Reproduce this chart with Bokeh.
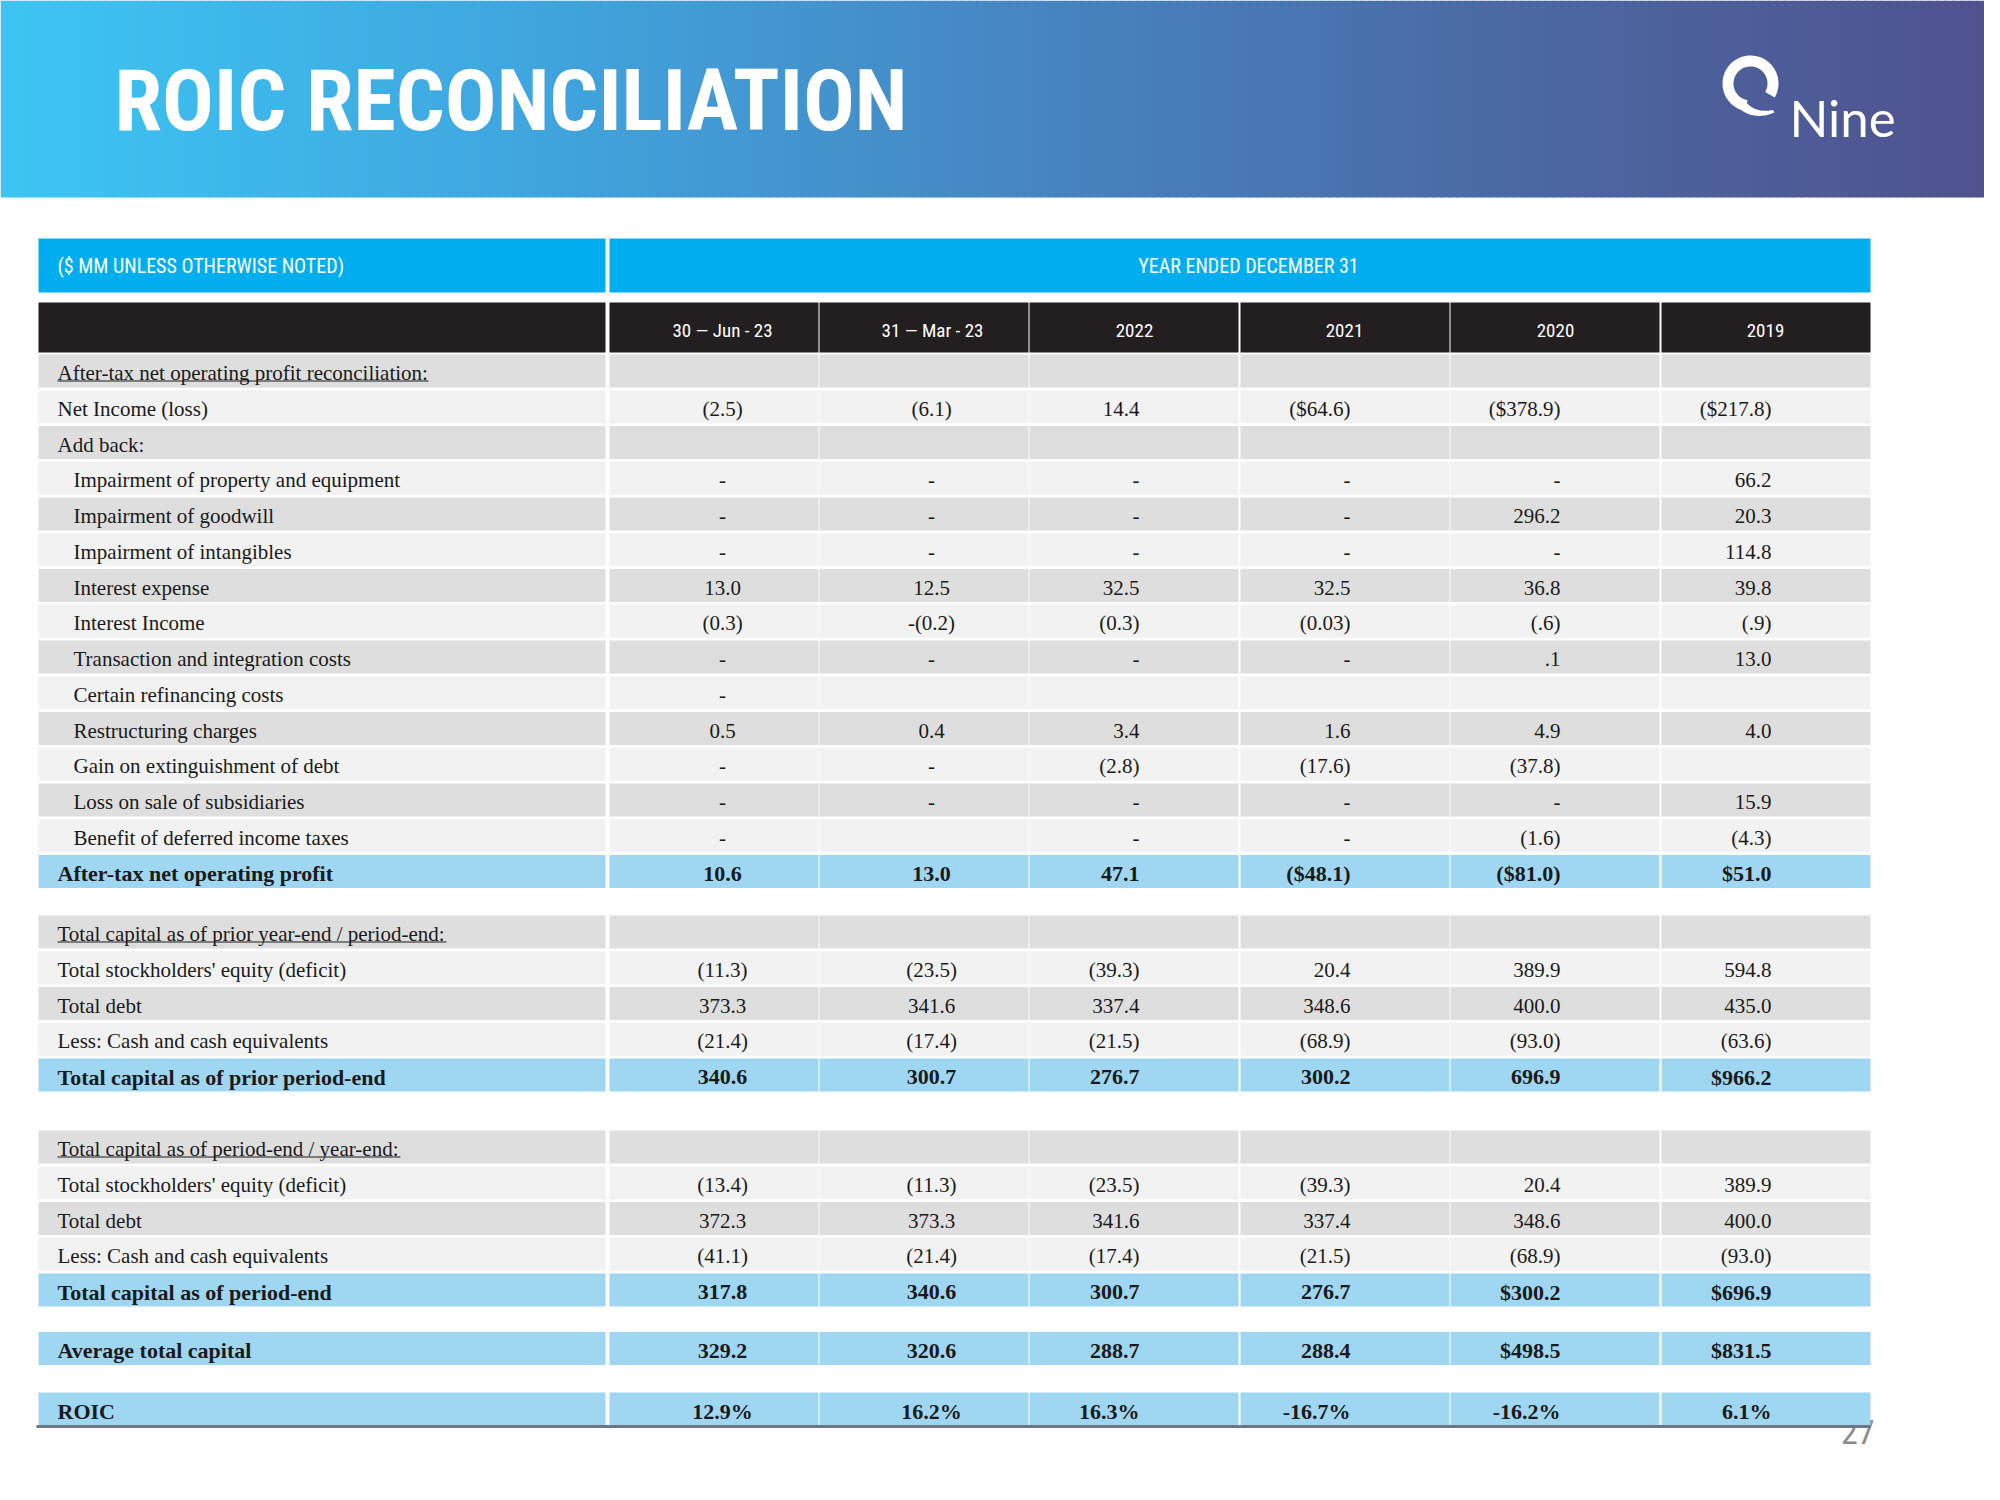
import numpy as np
from bokeh.plotting import figure
from bokeh.models import Range1d
from bokeh.core.properties import value
from bokeh.embed import file_html
from bokeh.resources import INLINE

# ---------------- data ----------------
title_text = "ROIC RECONCILIATION"
logo_text = "Nine"
unit_note = "($ MM UNLESS OTHERWISE NOTED)"
period_note = "YEAR ENDED DECEMBER 31"
page_number = "27"
col_headers = ["30 \u2014 Jun - 23", "31 \u2014 Mar - 23", "2022", "2021", "2020", "2019"]

sec1_labels = [
    "After-tax net operating profit reconciliation:",
    "Net Income (loss)",
    "Add back:",
    "Impairment of property and equipment",
    "Impairment of goodwill",
    "Impairment of intangibles",
    "Interest expense",
    "Interest Income",
    "Transaction and integration costs",
    "Certain refinancing costs",
    "Restructuring charges",
    "Gain on extinguishment of debt",
    "Loss on sale of subsidiaries",
    "Benefit of deferred income taxes",
    "After-tax net operating profit",
]
sec1_kinds = ["head", "item", "item", "sub", "sub", "sub", "sub", "sub", "sub",
              "sub", "sub", "sub", "sub", "sub", "total"]
sec1_values = [
    ["", "", "", "", "", ""],
    ["(2.5)", "(6.1)", "14.4", "($64.6)", "($378.9)", "($217.8)"],
    ["", "", "", "", "", ""],
    ["-", "-", "-", "-", "-", "66.2"],
    ["-", "-", "-", "-", "296.2", "20.3"],
    ["-", "-", "-", "-", "-", "114.8"],
    ["13.0", "12.5", "32.5", "32.5", "36.8", "39.8"],
    ["(0.3)", "-(0.2)", "(0.3)", "(0.03)", "(.6)", "(.9)"],
    ["-", "-", "-", "-", ".1", "13.0"],
    ["-", "", "", "", "", ""],
    ["0.5", "0.4", "3.4", "1.6", "4.9", "4.0"],
    ["-", "-", "(2.8)", "(17.6)", "(37.8)", ""],
    ["-", "-", "-", "-", "-", "15.9"],
    ["-", "", "-", "-", "(1.6)", "(4.3)"],
    ["10.6", "13.0", "47.1", "($48.1)", "($81.0)", "$51.0"],
]

sec2_labels = [
    "Total capital as of prior year-end / period-end:",
    "Total stockholders' equity (deficit)",
    "Total debt",
    "Less: Cash and cash equivalents",
    "Total capital as of prior period-end",
]
sec2_kinds = ["head", "item", "item", "item", "total"]
sec2_values = [
    ["", "", "", "", "", ""],
    ["(11.3)", "(23.5)", "(39.3)", "20.4", "389.9", "594.8"],
    ["373.3", "341.6", "337.4", "348.6", "400.0", "435.0"],
    ["(21.4)", "(17.4)", "(21.5)", "(68.9)", "(93.0)", "(63.6)"],
    ["340.6", "300.7", "276.7", "300.2", "696.9", "$966.2"],
]

sec3_labels = [
    "Total capital as of period-end / year-end:",
    "Total stockholders' equity (deficit)",
    "Total debt",
    "Less: Cash and cash equivalents",
    "Total capital as of period-end",
]
sec3_kinds = ["head", "item", "item", "item", "total"]
sec3_values = [
    ["", "", "", "", "", ""],
    ["(13.4)", "(11.3)", "(23.5)", "(39.3)", "20.4", "389.9"],
    ["372.3", "373.3", "341.6", "337.4", "348.6", "400.0"],
    ["(41.1)", "(21.4)", "(17.4)", "(21.5)", "(68.9)", "(93.0)"],
    ["317.8", "340.6", "300.7", "276.7", "$300.2", "$696.9"],
]

avg_labels = ["Average total capital"]
avg_kinds = ["total"]
avg_values = [["329.2", "320.6", "288.7", "288.4", "$498.5", "$831.5"]]

roic_labels = ["ROIC"]
roic_kinds = ["total"]
roic_values = [["12.9%", "16.2%", "16.3%", "-16.7%", "-16.2%", "6.1%"]]

# ---------------- layout / style ----------------
W, H = 1984, 1484
SERIF = "Liberation Serif"
COND = "Roboto Condensed, DejaVu Sans Condensed, Open Sans Condensed, Noto Sans Condensed, Roboto"
FS = 21
FS_BOLD = 22
PITCH = 35.75
CELL_H = 33
LABEL_L, LABEL_R = 38, 605
COL_L = [609, 819, 1029, 1240, 1450, 1661]
COL_W = 209
GRAY, LIGHT, BLUE = "#DEDEDE", "#F2F2F2", "#9FD6F2"
TXT = "#1A1A1A"

p = figure(width=W, height=H, x_range=Range1d(0, W), y_range=Range1d(H, 0),
           output_backend="svg", toolbar_location=None, min_border=0,
           x_axis_location=None, y_axis_location=None)
p.grid.visible = False
p.outline_line_color = None
p.background_fill_color = "white"
p.border_fill_color = "white"

# banner gradient
stops_x = [0, 500, 1000, 1500, 2000]
stops_c = np.array([[60, 198, 243], [64, 168, 224], [70, 136, 196], [75, 106, 165], [80, 82, 142]])
n = 250
xs = np.linspace(0, 2000, n + 1)
lefts = xs[:-1]
rights = xs[1:] + 1
mids = (lefts + xs[1:]) / 2
cols = []
for m in mids:
    r = np.interp(m, stops_x, stops_c[:, 0]); g = np.interp(m, stops_x, stops_c[:, 1]); b = np.interp(m, stops_x, stops_c[:, 2])
    cols.append("#%02x%02x%02x" % (int(r), int(g), int(b)))
p.quad(left=lefts, right=rights, top=[0] * n, bottom=[197] * n, fill_color=cols, line_color=None)

p.text(x=[114], y=[100], text=[title_text], text_font=value(COND), text_font_size="86px",
       text_font_style="bold", text_color="white", text_baseline="middle", text_align="left")

# logo: open ring with a spiral tail
cx, cy = 1750, 83
th = np.radians(np.linspace(100, 390, 80))
ring_x = np.concatenate([cx + 28 * np.cos(th), cx + 17 * np.cos(th[::-1])])
ring_y = np.concatenate([cy + 28 * np.sin(th), cy + 17 * np.sin(th[::-1])])
tt = np.linspace(0, 1, 40)
tth = np.radians(110 - 60 * tt)
rc = 22.5 + 13.5 * tt
hw = 5.5 - 4.0 * tt
tail_x = np.concatenate([cx + (rc + hw) * np.cos(tth), (cx + (rc - hw) * np.cos(tth))[::-1]])
tail_y = np.concatenate([cy + (rc + hw) * np.sin(tth), (cy + (rc - hw) * np.sin(tth))[::-1]])
p.patches(xs=[list(ring_x), list(tail_x)], ys=[list(ring_y), list(tail_y)],
          fill_color="white", line_color=None)
p.text(x=[1789], y=[117], text=[logo_text], text_font=value("Lato"), text_font_size="51px",
       text_color="white", text_baseline="middle", text_align="left")

# page number (drawn first, so the table partly covers it)
p.text(x=[1874], y=[1431], text=[page_number], text_font=value(COND), text_font_size="34px",
       text_color="#8C8C8C", text_baseline="middle", text_align="right")

# header rows
p.quad(left=[LABEL_L, COL_L[0]], right=[LABEL_R, COL_L[-1] + COL_W], top=[238, 238], bottom=[292, 292],
       fill_color="#00AEEF", line_color=None)
p.text(x=[57], y=[265], text=[unit_note], text_font=value(COND), text_font_size="20px",
       text_color="white", text_baseline="middle", text_align="left")
p.text(x=[1248], y=[265], text=[period_note], text_font=value(COND), text_font_size="20px",
       text_color="white", text_baseline="middle", text_align="center")

p.quad(left=[LABEL_L] + COL_L, right=[LABEL_R] + [c + COL_W for c in COL_L], top=[302] * 7, bottom=[352] * 7,
       fill_color="#231F20", line_color=None)
hdr_x = [722, 932, 1134, 1344, 1555, 1765]
p.text(x=hdr_x, y=[330] * 6, text=col_headers, text_font=value(COND), text_font_size="19px",
       text_color="white", text_baseline="middle", text_align="center")

# body
blocks = [
    (370.5, sec1_labels, sec1_kinds, sec1_values),
    (931.5, sec2_labels, sec2_kinds, sec2_values),
    (1146.5, sec3_labels, sec3_kinds, sec3_values),
    (1348.0, avg_labels, avg_kinds, avg_values),
    (1408.5, roic_labels, roic_kinds, roic_values),
]
val_anchor = [722, 931, 1139, 1350, 1560, 1771]
val_align = ["center", "center", "right", "right", "right", "right"]

times_w = {'a': .444, 'b': .5, 'c': .444, 'd': .5, 'e': .444, 'f': .333, 'g': .5, 'h': .5, 'i': .278,
           'j': .278, 'k': .5, 'l': .278, 'm': .778, 'n': .5, 'o': .5, 'p': .5, 'q': .5, 'r': .333,
           's': .389, 't': .278, 'u': .5, 'v': .5, 'w': .722, 'x': .5, 'y': .5, 'z': .444, ' ': .25,
           '-': .333, '/': .278, ':': .278, 'A': .722, 'T': .611}

def text_width(s, fs):
    return sum(times_w.get(ch, .5) for ch in s) * fs

cells = dict(l=[], r=[], t=[], b=[], c=[])
lab = {k: dict(x=[], y=[], t=[]) for k in ["norm", "bold"]}
vals = {(k, a): dict(x=[], y=[], t=[]) for k in ["norm", "bold"] for a in ["center", "right"]}
ul = dict(x0=[], x1=[], y=[])

for y0, labels, kinds, values in blocks:
    for i, (lbl, kind, row) in enumerate(zip(labels, kinds, values)):
        yc = y0 + i * PITCH
        fill = BLUE if kind == "total" else (GRAY if i % 2 == 0 else LIGHT)
        for L, R in [(LABEL_L, LABEL_R)] + [(c, c + COL_W) for c in COL_L]:
            cells["l"].append(L); cells["r"].append(R)
            cells["t"].append(yc - CELL_H / 2); cells["b"].append(yc + CELL_H / 2)
            cells["c"].append(fill)
        weight = "bold" if kind == "total" else "norm"
        lx = 73 if kind == "sub" else 57
        lab[weight]["x"].append(lx); lab[weight]["y"].append(yc + 2); lab[weight]["t"].append(lbl)
        if kind == "head":
            ul["x0"].append(lx); ul["x1"].append(lx + text_width(lbl, FS)); ul["y"].append(yc + 10)
        for j, v in enumerate(row):
            if v == "":
                continue
            d = vals[(weight, val_align[j])]
            d["x"].append(val_anchor[j]); d["y"].append(yc + 2); d["t"].append(v)

p.quad(left=cells["l"], right=cells["r"], top=cells["t"], bottom=cells["b"],
       fill_color=cells["c"], line_color=None)

for w, d in lab.items():
    p.text(x=d["x"], y=d["y"], text=d["t"], text_font=value(SERIF),
           text_font_size=f"{FS_BOLD if w == 'bold' else FS}px",
           text_font_style="bold" if w == "bold" else "normal", text_color=TXT,
           text_baseline="middle", text_align="left")
for (w, a), d in vals.items():
    if not d["t"]:
        continue
    p.text(x=d["x"], y=d["y"], text=d["t"], text_font=value(SERIF),
           text_font_size=f"{FS_BOLD if w == 'bold' else FS}px",
           text_font_style="bold" if w == "bold" else "normal", text_color=TXT,
           text_baseline="middle", text_align=a)

p.segment(x0=ul["x0"], x1=ul["x1"], y0=ul["y"], y1=ul["y"], line_color=TXT, line_width=1)

# bottom rule
p.segment(x0=[36], x1=[1870], y0=[1426], y1=[1426], line_color="#6B7883", line_width=3)

open("out.html", "w").write(file_html(p, INLINE))
